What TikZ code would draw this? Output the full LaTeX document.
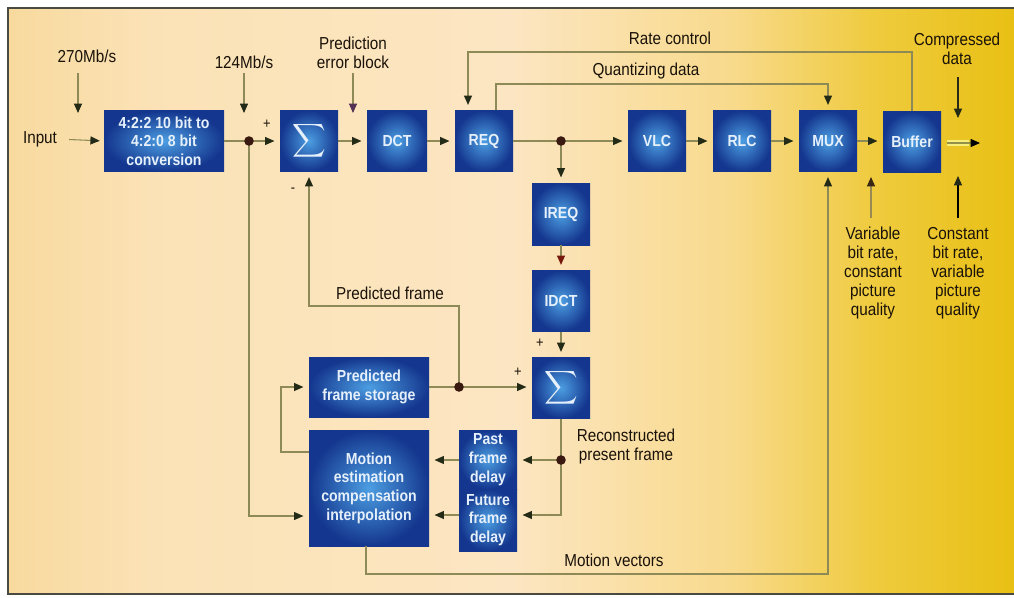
\documentclass[tikz,border=0pt]{standalone}
\usepackage{graphicx}
\usepackage{fontspec}
\setmainfont{Liberation Sans}[FakeStretch=0.88]
\usetikzlibrary{arrows.meta,calc}

\definecolor{wire}{HTML}{8E8A58}
\definecolor{tipc}{HTML}{232A16}
\definecolor{dotc}{HTML}{3A1A10}
\definecolor{navy}{HTML}{14368E}
\definecolor{glow}{HTML}{4C9EE2}
\definecolor{boxtext}{HTML}{E6F0FC}
\definecolor{framec}{HTML}{4A4A40}
\definecolor{labelc}{HTML}{1A1208}
\definecolor{hl}{HTML}{F6EE7A}
\definecolor{p0}{HTML}{F8DA9E}
\definecolor{p1}{HTML}{FBE2B6}
\definecolor{p2}{HTML}{FCE5C2}
\definecolor{p3}{HTML}{F8DA8C}
\definecolor{p4}{HTML}{EFCB3E}
\definecolor{p5}{HTML}{E8C014}

% paper tone: the filled box spans 25bp..75bp of the shading
\pgfdeclarehorizontalshading{paper}{100bp}{color(0bp)=(p0); color(25bp)=(p0); color(32bp)=(p1); color(50bp)=(p2); color(61bp)=(p3); color(68bp)=(p4); color(75bp)=(p5); color(100bp)=(p5)}

\tikzset{
  blk/.style={inner sep=0pt, align=center, text=boxtext,
    font=\bfseries\fontsize{12}{14}\selectfont,
    inner color=glow, outer color=navy},
  sq/.style={blk, minimum width=43.5pt, minimum height=45.75pt},
  wide/.style={blk, minimum width=90pt},
  lbl/.style={inner sep=0pt, align=center, text=labelc,
    font=\fontsize{13}{14.25}\selectfont},
  sign/.style={inner sep=0pt, text=labelc, font=\fontsize{11}{11}\selectfont},
  wireline/.style={draw=wire, line width=0.8pt},
  arr/.style={wireline, -{Triangle[length=7pt,width=6pt,color=tipc]}, shorten >=4pt},
  arrfree/.style={wireline, -{Triangle[length=7pt,width=6pt,color=tipc]}},
  junction/.style={fill=dotc}
}

\newcommand{\sumsign}{\scalebox{1.75}{$\displaystyle\sum$}}

\begin{document}
\begin{tikzpicture}[x=0.75pt,y=-0.75pt]
\useasboundingbox (0,0) rectangle (1014,597);
\fill[white] (0,0) rectangle (1014,597);
\shade[shading=paper] (8,8) rectangle (1014,594);
\draw[framec, line width=1.1pt] (1014,8) -- (8,8) -- (8,594) -- (1014,594);

% ---- processing blocks ----
\node[wide, minimum height=45.75pt] (conv) at (164,141) {4:2:2 10 bit to\\4:2:0 8 bit\\conversion};
\node[sq] (sum1) at (309,141) {\sumsign};
\node[sq, minimum width=45pt] (dct) at (397,141) {DCT};
\node[sq] (req) at (484,141) {REQ};
\node[sq] (vlc) at (657,141) {VLC};
\node[sq] (rlc) at (742,141) {RLC};
\node[sq] (mux) at (828,141) {MUX};
\node[sq] (buf) at (912,142) {Buffer};
\node[sq, minimum height=46.5pt] (ireq) at (561,214) {IREQ};
\node[sq] (idct) at (561,301) {IDCT};
\node[sq] (sum2) at (561,388) {\sumsign};
\node[wide, minimum height=45pt] (pfs) at (369,387) {Predicted\\frame storage};
\node[wide, minimum height=87pt] (mec) at (369,488) {Motion\\estimation\\compensation\\interpolation};
\node[sq, minimum height=44.25pt] (past) at (488,459.5) {Past\\frame\\delay};
\node[sq, minimum height=46.5pt] (fut) at (488,520) {Future\\frame\\delay};

% ---- text labels ----
\node[lbl] (l270) at (87,56) {270Mb/s};
\node[lbl] (lin) at (40,139) {Input};
\node[lbl] (l124) at (244,62) {124Mb/s};
\node[lbl] (lpeb) at (353,53) {Prediction\\error block};
\node[lbl] (lrate) at (670,38) {Rate control};
\node[lbl] (lquant) at (646,71) {Quantizing data};
\node[lbl] (lcomp) at (957,49) {Compressed\\data};
\node[lbl] (lpf) at (390,293) {Predicted frame};
\node[lbl] (lrec) at (626,447) {Reconstructed\\present frame};
\node[lbl] (lmv) at (614,560) {Motion vectors};
\node[lbl] (lvar) at (873,273) {Variable\\bit rate,\\constant\\picture\\quality};
\node[lbl] (lcon) at (958,273) {Constant\\bit rate,\\variable\\picture\\quality};
\node[sign] (s1) at (267,124) {+};
\node[sign] (s2) at (293,190) {-};
\node[sign] (s3) at (540,343) {+};
\node[sign] (s4) at (518,372) {+};

% ---- junction points ----
\coordinate (j1) at (249,141);
\coordinate (jr) at (561,141);
\coordinate (jp) at (459,387);
\coordinate (jd) at (561,460);
\coordinate (jf) at (561,515);
\coordinate (jm) at (249,516);
\coordinate (lp) at (281,452);
\coordinate (pf) at (309,306);
\coordinate (rc) at (468,52);
\coordinate (qd) at (496,84);
\coordinate (mv) at (366,574);

% ---- incoming rate markers ----
\coordinate (t270) at (78,73);  \coordinate (h270) at (78,113);
\coordinate (t124) at (244,73); \coordinate (h124) at (244,113);
\coordinate (tpeb) at (353,73); \coordinate (hpeb) at (353,113);
\coordinate (tcmp) at (958,77); \coordinate (hcmp) at (958,118);
\coordinate (tvar) at (871,218); \coordinate (hvar) at (871,177);
\coordinate (tcon) at (958,218); \coordinate (hcon) at (958,176);
\coordinate (oute) at (980,143);

\draw[arrfree] (t270) -- (h270);
\draw[arrfree] (t124) -- (h124);
\draw[wireline, -{Triangle[length=7pt,width=6pt,color=black!55!violet!60!gray]}] (tpeb) -- (hpeb);
\draw[arrfree, draw=black!70!wire] (tcmp) -- (hcmp);
\draw[wireline, draw=wire!80!brown, -{Triangle[length=7pt,width=6pt,color=black!70!brown]}] (tvar) -- (hvar);
\draw[arrfree, draw=black] (tcon) -- (hcon);

% ---- forward path ----
\draw[arr, shorten >=3pt, shorten <=9pt] (lin.east) -- (conv.west);
\draw[wireline] (conv.east) -- (j1);
\draw[arr] (j1) -- (sum1.west);
\draw[arr] (sum1.east) -- (dct.west);
\draw[arr] (dct.east) -- (req.west);
\draw[wireline] (req.east) -- (jr);
\draw[arr] (jr) -- (vlc.west);
\draw[arr] (vlc.east) -- (rlc.west);
\draw[arr] (rlc.east) -- (mux.west);
\draw[arr] (mux.east) -- (mux.east -| buf.west);
\draw[line width=4.5pt, draw=hl] ($(buf.east)+(6,1)$) -- ($(buf.east)+(28,1)$);
\draw[wireline, draw=hl!60!black, -{Triangle[length=7pt,width=6pt,color=black]}] ($(buf.east)+(6,1)$) -- (oute);

% ---- reconstruction loop ----
\draw[arr] (jr) -- (ireq.north);
\draw[arr, -{Triangle[length=7pt,width=6pt,color=black!60!red!80!brown]}] (ireq.south) -- (idct.north);
\draw[arr] (idct.south) -- (sum2.north);
\draw[wireline] (sum2.south) -- (jd);
\draw[arr] (jd) -- (past.east |- jd);
\draw[arr] (jd) -- (jf) -- (jf -| fut.east);
\draw[arr] (past.west |- jd) -- (jd -| mec.east);
\draw[arr] (jf -| fut.west) -- (jf -| mec.east);

% ---- prediction ----
\draw[arr] (j1) -- (jm) -- (jm -| mec.west);
\draw[arr] (lp -| mec.west) -- (lp) -- (lp |- pfs.west) -- (pfs.west);
\draw[wireline] (pfs.east) -- (jp);
\draw[arr] (jp) -- (jp -| sum2.west);
\draw[arr] (jp) -- (jp |- pf) -- (pf) -- (sum1.south);

% ---- control paths ----
\draw[arr] (buf.north) |- (rc) -- (rc |- req.north);
\draw[arr] (qd |- req.north) -- (qd) -| (mux.north);
\draw[arr] (mv |- mec.south) -- (mv) -| (mux.south);

% ---- junction dots ----
\fill[junction] (j1) circle (3.6pt);
\fill[junction] (jr) circle (3.6pt);
\fill[junction] (jp) circle (3.6pt);
\fill[junction] (jd) circle (3.6pt);
\end{tikzpicture}
\end{document}
